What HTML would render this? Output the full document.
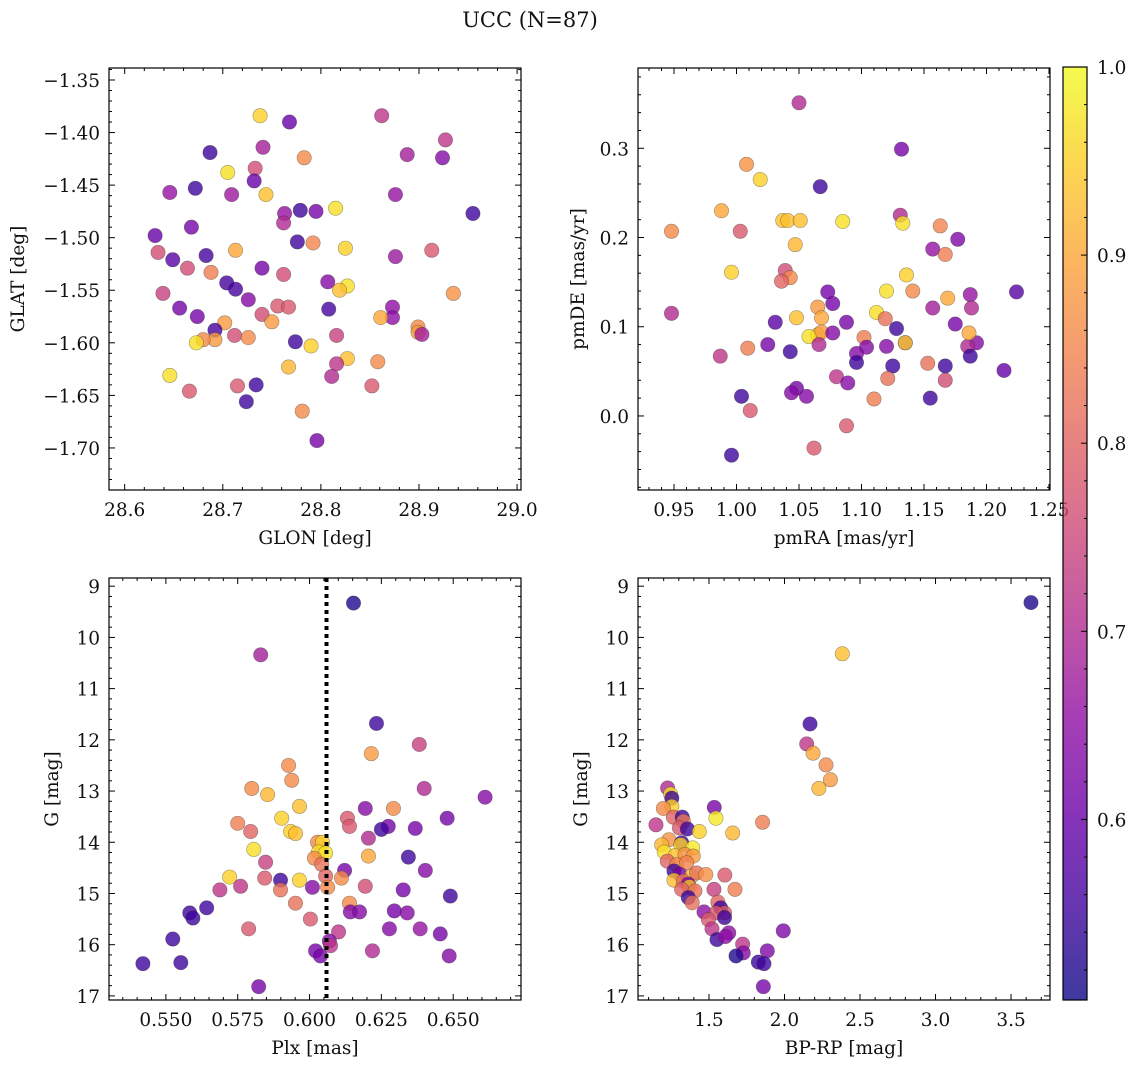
<!DOCTYPE html>
<html><head><meta charset="utf-8">
<style>
html,body{margin:0;padding:0;background:#fff;}
svg{display:block;font-family:"DejaVu Serif","Liberation Serif",serif;}
</style></head>
<body>
<svg id="fig" width="1136" height="1067" viewBox="0 0 1136 1067" xmlns="http://www.w3.org/2000/svg">
<text x="530" y="27" text-anchor="middle" font-size="21" fill="#111">UCC (N=87)</text>
</svg>
<script>
// ---- Panel 1: GLON vs GLAT ----
const p1Lon = [28.738,28.768,28.862,28.927,28.687,28.741,28.783,28.888,28.924,28.733,28.705,28.672,28.732,28.646,28.709,28.744,28.876,28.779,28.763,28.762,28.795,28.815,28.955,28.668,28.631,28.634,28.649,28.683,28.713,28.776,28.792,28.825,28.876,28.913,28.740,28.762,28.664,28.688,28.639,28.704,28.713,28.807,28.827,28.819,28.935,28.656,28.726,28.674,28.740,28.756,28.767,28.750,28.873,28.873,28.861,28.808,28.702,28.692,28.712,28.726,28.692,28.680,28.673,28.899,28.899,28.903,28.774,28.790,28.816,28.827,28.858,28.767,28.816,28.811,28.646,28.715,28.734,28.852,28.666,28.724,28.781,28.796];
const p1Lat = [-1.384,-1.390,-1.384,-1.407,-1.419,-1.414,-1.424,-1.421,-1.424,-1.434,-1.438,-1.453,-1.446,-1.457,-1.459,-1.459,-1.459,-1.474,-1.477,-1.486,-1.475,-1.472,-1.477,-1.490,-1.498,-1.514,-1.521,-1.517,-1.512,-1.504,-1.505,-1.510,-1.518,-1.512,-1.529,-1.535,-1.529,-1.533,-1.553,-1.543,-1.549,-1.542,-1.546,-1.550,-1.553,-1.567,-1.559,-1.575,-1.573,-1.565,-1.566,-1.580,-1.566,-1.576,-1.576,-1.568,-1.581,-1.588,-1.593,-1.595,-1.597,-1.597,-1.600,-1.585,-1.590,-1.592,-1.599,-1.603,-1.593,-1.615,-1.618,-1.623,-1.620,-1.632,-1.631,-1.641,-1.640,-1.641,-1.646,-1.656,-1.665,-1.693];
const p1Prob = [.95,.60,.72,.72,.55,.68,.86,.68,.64,.76,.97,.55,.60,.66,.67,.93,.66,.55,.66,.70,.62,.97,.55,.62,.60,.76,.58,.56,.90,.55,.85,.95,.67,.78,.62,.76,.76,.84,.74,.56,.56,.64,.97,.93,.87,.62,.64,.62,.76,.78,.78,.88,.65,.65,.90,.56,.88,.56,.76,.86,.88,.86,.97,.86,.88,.68,.55,.95,.74,.93,.86,.92,.72,.70,.97,.78,.55,.78,.78,.55,.86,.62];
// ---- Panel 2: pmRA vs pmDE ----
const p2Pmra = [1.050,1.132,1.008,1.019,1.067,0.948,0.988,1.003,1.037,1.041,1.051,1.085,1.131,1.133,1.163,1.177,1.157,1.047,1.167,0.996,1.039,1.043,1.036,1.136,1.073,1.120,1.141,1.169,1.224,1.187,1.077,1.065,1.068,1.048,1.112,1.119,1.157,1.188,0.948,1.175,1.128,1.088,1.031,1.065,1.068,1.058,1.077,1.102,1.135,1.135,1.104,1.120,1.096,1.096,1.009,1.025,1.043,1.192,1.185,1.186,1.187,1.153,1.125,1.167,0.987,1.066,1.214,1.080,1.089,1.121,1.167,1.048,1.044,1.056,1.004,1.110,1.155,1.011,1.088,1.062,0.996];
const p2Pmde = [0.351,0.299,0.282,0.265,0.257,0.207,0.230,0.207,0.219,0.219,0.219,0.218,0.225,0.216,0.213,0.198,0.187,0.192,0.181,0.161,0.163,0.155,0.151,0.158,0.139,0.140,0.140,0.132,0.139,0.136,0.126,0.122,0.110,0.110,0.116,0.109,0.121,0.121,0.115,0.103,0.098,0.105,0.105,0.091,0.094,0.089,0.093,0.088,0.082,0.082,0.077,0.078,0.070,0.060,0.076,0.080,0.072,0.082,0.078,0.093,0.067,0.059,0.056,0.056,0.067,0.080,0.051,0.044,0.037,0.042,0.040,0.031,0.026,0.022,0.022,0.019,0.020,0.006,-0.011,-0.036,-0.044];
const p2Prob = [.70,.62,.87,.95,.55,.86,.90,.78,.93,.93,.93,.97,.70,.97,.85,.63,.66,.92,.84,.95,.76,.86,.80,.95,.62,.97,.86,.90,.58,.66,.62,.88,.90,.93,.97,.82,.68,.70,.70,.62,.55,.62,.58,.95,.88,.97,.64,.84,.62,.95,.64,.64,.64,.55,.84,.62,.55,.64,.70,.90,.55,.82,.55,.55,.72,.70,.60,.72,.64,.82,.76,.62,.64,.64,.55,.84,.55,.78,.78,.78,.55];
// ---- Panel 3: Plx vs G ----
const p3Plx = [0.6153,0.5830,0.6233,0.6382,0.5927,0.6215,0.5938,0.6399,0.5799,0.5854,0.6611,0.5965,0.6194,0.6292,0.5903,0.6132,0.6479,0.6139,0.5750,0.6274,0.6368,0.5795,0.5934,0.6250,0.5951,0.6028,0.6205,0.6045,0.6031,0.5806,0.6056,0.6205,0.6017,0.6344,0.6042,0.5847,0.6122,0.6403,0.6056,0.6111,0.5722,0.5844,0.5899,0.5965,0.5760,0.5688,0.6063,0.6194,0.6010,0.5899,0.6326,0.6490,0.5951,0.6139,0.5642,0.6142,0.6174,0.6295,0.6340,0.5583,0.5594,0.6003,0.6101,0.5788,0.6278,0.6385,0.6455,0.5524,0.6069,0.6073,0.6021,0.6219,0.6038,0.6486,0.5552,0.5420,0.5823];
const p3G = [9.33,10.34,11.68,12.09,12.50,12.27,12.79,12.95,12.95,13.07,13.12,13.30,13.34,13.34,13.53,13.53,13.53,13.69,13.63,13.69,13.73,13.79,13.79,13.75,13.83,14.00,13.92,14.00,14.19,14.14,14.21,14.27,14.31,14.29,14.43,14.39,14.55,14.55,14.66,14.70,14.68,14.70,14.74,14.74,14.86,14.93,14.88,14.86,14.88,14.93,14.93,15.05,15.19,15.19,15.28,15.36,15.36,15.34,15.38,15.38,15.48,15.50,15.75,15.69,15.69,15.69,15.79,15.89,15.93,16.02,16.12,16.12,16.22,16.22,16.35,16.37,16.82];
const p3Prob = [.52,.68,.55,.74,.86,.88,.86,.70,.86,.92,.64,.93,.64,.86,.95,.78,.62,.78,.84,.62,.62,.80,.95,.55,.93,.86,.70,.95,.97,.97,.97,.90,.86,.55,.82,.74,.62,.64,.80,.86,.95,.78,.55,.95,.72,.72,.86,.76,.64,.82,.62,.55,.82,.86,.55,.64,.64,.62,.64,.55,.55,.78,.72,.78,.64,.66,.62,.55,.64,.72,.62,.70,.62,.64,.55,.55,.62];
const plxLine = [0.6059];
// ---- Panel 4: BP-RP vs G ----
const p4Bprp = [3.632,2.383,2.169,2.147,2.189,2.275,2.304,2.228,1.226,1.246,1.254,1.254,1.198,1.535,1.546,1.264,1.323,1.330,1.149,1.304,1.357,1.436,1.657,1.855,1.235,1.187,1.319,1.313,1.392,1.204,1.275,1.341,1.396,1.224,1.286,1.352,1.268,1.308,1.385,1.418,1.479,1.605,1.268,1.330,1.363,1.370,1.319,1.407,1.533,1.672,1.363,1.389,1.559,1.467,1.577,1.603,1.546,1.603,1.496,1.520,1.553,1.631,1.609,1.992,1.723,1.727,1.679,1.886,1.827,1.864,1.860];
const p4G = [9.32,10.32,11.69,12.08,12.26,12.49,12.78,12.95,12.94,13.06,13.14,13.30,13.34,13.32,13.53,13.51,13.51,13.59,13.66,13.72,13.74,13.79,13.82,13.61,13.95,14.05,14.01,14.05,14.11,14.19,14.26,14.24,14.27,14.37,14.44,14.40,14.56,14.63,14.66,14.60,14.63,14.64,14.74,14.76,14.82,14.87,14.92,14.95,14.92,14.92,15.08,15.18,15.17,15.36,15.28,15.38,15.38,15.47,15.51,15.69,15.90,15.77,15.84,15.73,15.99,16.16,16.22,16.12,16.34,16.37,16.82];
const p4Prob = [.52,.93,.55,.72,.90,.86,.88,.92,.70,.97,.55,.95,.86,.62,.98,.80,.55,.83,.72,.78,.55,.95,.92,.84,.87,.92,.55,.95,.98,.97,.93,.87,.88,.80,.85,.85,.55,.62,.93,.82,.87,.78,.93,.82,.62,.93,.80,.82,.74,.84,.55,.82,.80,.65,.55,.78,.78,.55,.78,.72,.55,.65,.65,.63,.72,.64,.52,.63,.55,.55,.62];
// ---- Colorbar ----
const cbTicks = [0.6,0.7,0.8,0.9,1.0];
const cbRange = [0.504,1.0];

const NS = "http://www.w3.org/2000/svg";
const svg = document.getElementById('fig');
const FS = 18.5;
function mk(tag, attrs, parent){
  const e = document.createElementNS(NS, tag);
  for (const k in attrs) e.setAttribute(k, attrs[k]);
  (parent||svg).appendChild(e);
  return e;
}
const PL = [[13,8,135],[65,4,157],[106,0,168],[143,13,164],[177,42,144],[204,71,120],[225,100,98],[242,132,75],[252,166,54],[252,206,37],[240,249,33]];
function plasma(t){
  t = Math.max(0, Math.min(1, t));
  const f = t*10, i = Math.min(9, Math.floor(f)), r = f - i;
  const a = PL[i], b = PL[i+1];
  return 'rgb(' + [0,1,2].map(k => Math.round(a[k]+(b[k]-a[k])*r)).join(',') + ')';
}
function norm(p){ return (p - cbRange[0])/(cbRange[1]-cbRange[0]); }

function panel(cfg){
  const {L,R,T,B,xd,yd,inv} = cfg;
  const sx = v => L + (v - xd[0])/(xd[1]-xd[0])*(R-L);
  const sy = inv ? (v => T + (v - yd[0])/(yd[1]-yd[0])*(B-T))
                 : (v => B - (v - yd[0])/(yd[1]-yd[0])*(B-T));
  const g = mk('g', {});
  
  
  const cid = cfg.name + '-clip';
  const cp = mk('clipPath', {id: cid}, g);
  mk('rect', {x:L, y:T, width:R-L, height:B-T}, cp);
  const pts = mk('g', {'clip-path':'url(#'+cid+')'}, g);
  
  
  for (let i = 0; i < cfg.xs.length; i++){
    const c = mk('circle', {cx: sx(cfg.xs[i]), cy: sy(cfg.ys[i]), r: 7.2,
      fill: plasma(norm(cfg.ps[i])), 'fill-opacity': 0.8, stroke: 'rgba(40,40,40,0.45)', 'stroke-width': 0.6}, pts);
    
    
  }
  if (cfg.vline){
    for (const v of cfg.vline){
      const l = mk('line', {x1: sx(v), x2: sx(v), y1: T, y2: B, stroke:'#000', 'stroke-width':4, 'stroke-dasharray':'4 4'}, g);
      
      
    }
  }
  const tg = mk('g', {stroke:'#000', 'stroke-width':1}, g);
  function ticksX(minor, ratio, fmt){
    const i0 = Math.ceil(xd[0]/minor - 1e-6), i1 = Math.floor(xd[1]/minor + 1e-6);
    for (let i = i0; i <= i1; i++){
      const v = i*minor, x = sx(v), maj = (i % ratio === 0), len = maj ? 6 : 3;
      mk('line', {x1:x, x2:x, y1:B, y2:B-len}, tg);
      mk('line', {x1:x, x2:x, y1:T, y2:T+len}, tg);
      if (maj){
        const t = mk('text', {x:x, y:B+26, 'text-anchor':'middle', 'font-size':FS, fill:'#111', stroke:'none'}, g);
        t.textContent = fmt(v);
        
        
      }
    }
  }
  function ticksY(minor, ratio, fmt){
    const i0 = Math.ceil(Math.min(yd[0],yd[1])/minor - 1e-6), i1 = Math.floor(Math.max(yd[0],yd[1])/minor + 1e-6);
    for (let i = i0; i <= i1; i++){
      const v = i*minor, y = sy(v), maj = (i % ratio === 0), len = maj ? 6 : 3;
      mk('line', {x1:L, x2:L+len, y1:y, y2:y}, tg);
      mk('line', {x1:R, x2:R-len, y1:y, y2:y}, tg);
      if (maj){
        const t = mk('text', {x:L-9, y:y+7, 'text-anchor':'end', 'font-size':FS, fill:'#111', stroke:'none'}, g);
        t.textContent = fmt(v);
        
        
      }
    }
  }
  const fm = d => v => { const s = Math.abs(v) < 1e-9 ? (0).toFixed(d) : v.toFixed(d); return s.replace('-', '\u2212'); };
  ticksX(cfg.xminor, cfg.xratio, fm(cfg.xdec));
  ticksY(cfg.yminor, cfg.yratio, fm(cfg.ydec));
  const fr = mk('rect', {x:L, y:T, width:R-L, height:B-T, fill:'none', stroke:'#000', 'stroke-width':1.2}, g);
  
  
  const xl = mk('text', {x:(L+R)/2, y:B+54, 'text-anchor':'middle', 'font-size':FS, fill:'#111'}, g);
  xl.textContent = cfg.xlabel;
  
  
  const yl = mk('text', {x:cfg.ylx, y:(T+B)/2, 'text-anchor':'middle', 'font-size':FS, fill:'#111', transform:'rotate(-90 '+cfg.ylx+' '+((T+B)/2)+')'}, g);
  yl.textContent = cfg.ylabel;
  
  
}

panel({name:'glon-glat-panel', L:109,R:521,T:68,B:490, xd:[28.584,29.004], yd:[-1.740,-1.3386], xs:p1Lon, ys:p1Lat, ps:p1Prob,
  xminor:0.02, xratio:5, xdec:1, yminor:0.01, yratio:5, ydec:2, xlabel:'GLON [deg]', ylabel:'GLAT [deg]', ylx:24});
panel({name:'pm-panel', L:638,R:1050,T:68,B:490, xd:[0.9212,1.2508], yd:[-0.083,0.390], xs:p2Pmra, ys:p2Pmde, ps:p2Prob,
  xminor:0.01, xratio:5, xdec:2, yminor:0.02, yratio:5, ydec:1, xlabel:'pmRA [mas/yr]', ylabel:'pmDE [mas/yr]', ylx:584});
panel({name:'plx-g-panel', L:109,R:521,T:578,B:1000, xd:[0.5302,0.6736], yd:[8.84,17.08], inv:true, xs:p3Plx, ys:p3G, ps:p3Prob, vline:plxLine,
  xminor:0.005, xratio:5, xdec:3, yminor:0.2, yratio:5, ydec:0, xlabel:'Plx [mas]', ylabel:'G [mag]', ylx:58});
panel({name:'cmd-panel', L:638,R:1050,T:578,B:1000, xd:[1.030,3.758], yd:[8.84,17.08], inv:true, xs:p4Bprp, ys:p4G, ps:p4Prob,
  xminor:0.1, xratio:5, xdec:1, yminor:0.2, yratio:5, ydec:0, xlabel:'BP-RP [mag]', ylabel:'G [mag]', ylx:587});

// colorbar
(function(){
  const L=1063,R=1087,T=67,B=1000;
  const defs = mk('defs', {});
  const lg = mk('linearGradient', {id:'cbgrad', x1:0, y1:1, x2:0, y2:0}, defs);
  for (let i = 0; i <= 20; i++){
    mk('stop', {offset: i/20, 'stop-color': plasma(i/20), 'stop-opacity': 0.8}, lg);
  }
  const r = mk('rect', {x:L, y:T, width:R-L, height:B-T, fill:'url(#cbgrad)', stroke:'#000', 'stroke-width':1.2});
  
  
  const sy = v => B - (v - cbRange[0])/(cbRange[1]-cbRange[0])*(B-T);
  for (let i = Math.ceil(cbRange[0]/0.02-1e-6); i <= Math.floor(cbRange[1]/0.02+1e-6); i++){
    const y = sy(i*0.02), maj = (i % 5 === 0);
    mk('line', {x1:R, x2:R-(maj?6:3), y1:y, y2:y, stroke:'#000', 'stroke-width':1});
  }
  for (const v of cbTicks){
    const t = mk('text', {x:R+10, y:sy(v)+7, 'font-size':FS, fill:'#111'});
    t.textContent = v.toFixed(1);
    
    
  }
})();
</script>
</body></html>
